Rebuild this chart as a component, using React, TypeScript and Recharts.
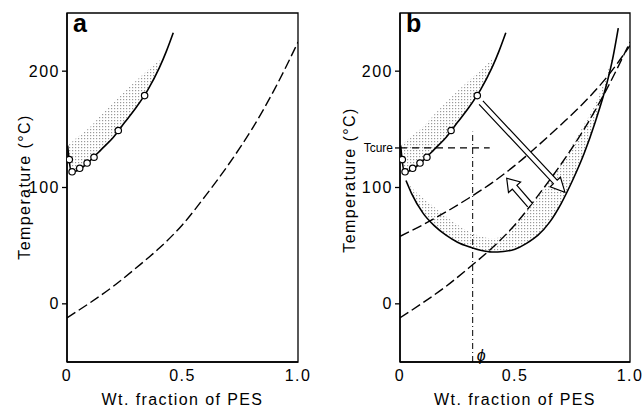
import React from "react";
import {
  ComposedChart,
  Line,
  Area,
  Scatter,
  XAxis,
  YAxis,
  ReferenceLine,
  ReferenceArea,
  ReferenceDot,
} from "recharts";

// axes
const fracTicks = [0, 0.5, 1];
const tempTicks = [0, 100, 200];
const tCure = 134;
const phi = 0.316;

// cloud-point curve (solid, upper left) and the measured points on it
const cloudX = [0.003, 0.009, 0.02, 0.05, 0.1, 0.15, 0.2, 0.25, 0.3, 0.35, 0.4, 0.43, 0.46];
const cloudT = [136, 124, 113, 115, 123, 133, 143, 156, 169, 184, 203, 217, 233];
// upper edge of the stippled band above it (same x, up to 0.4)
const cloudBandTop = [136, 137, 139, 144, 152, 163, 173, 183, 192, 201, 210];

const pointX = [0.01, 0.022, 0.055, 0.087, 0.117, 0.222, 0.336];
const pointT = [124, 113.5, 116.5, 121, 126, 149, 179];

// Tg curves (dashed)
const tgX = [0, 0.1, 0.2, 0.3, 0.4, 0.5, 0.6, 0.7, 0.8, 0.9, 1.0];
const tgLowT = [-12, 1, 15, 31, 48, 68, 93, 120, 150, 185, 225];
const tgHighT = [58, 68, 79, 91, 104, 119, 136, 154, 173, 195, 222];

// U-shaped curve in b and the stippled band on its inner side
const uX = [0.026, 0.05, 0.1, 0.15, 0.2, 0.25, 0.3, 0.35, 0.4, 0.45, 0.5, 0.55, 0.6, 0.65, 0.7, 0.75, 0.8, 0.85, 0.9, 0.925, 0.949];
const uT = [106, 95, 78, 67, 59, 53, 49, 46, 44.5, 45, 47, 52, 59, 70, 86, 106, 129, 157, 190, 211, 237];
const uBandTop = [106, 100, 91, 83, 75, 68, 62, 58, 56, 59, 68, 80, 93, 106, 120, 137, 154, 172, 198, 213];

// arrows in b: [tail, tip]
const bigArrow = [{ x: 0.352, y: 173 }, { x: 0.717, y: 96 }];
const smallArrow = [{ x: 0.565, y: 85 }, { x: 0.464, y: 108 }];

const cloud = cloudX.map((x, i) => ({ x, t: cloudT[i] }));
const cloudBand = cloudBandTop.map((top, i) => ({ x: cloudX[i], band: [cloudT[i], top] }));
const points = pointX.map((x, i) => ({ x, t: pointT[i] }));
const tgLow = tgX.map((x, i) => ({ x, t: tgLowT[i] }));
const tgHigh = tgX.map((x, i) => ({ x, t: tgHighT[i] }));
const uCurve = uX.map((x, i) => ({ x, t: uT[i] }));
const uBand = uBandTop.map((top, i) => ({ x: uX[i], band: [uT[i], top] }));

const FONT = "'Liberation Sans', Arial, sans-serif";
const DASH = "10 4";

const tickStyle = { fontSize: 16, fill: "#000", fontFamily: FONT, letterSpacing: 1.5 };

function HollowArrow(props: any) {
  const { x1, y1, x2, y2, w = 2.6, headLen = 14, headW = 7.5 } = props;
  const len = Math.hypot(x2 - x1, y2 - y1);
  const ux = (x2 - x1) / len;
  const uy = (y2 - y1) / len;
  const nx = -uy;
  const ny = ux;
  const neckX = x2 - ux * headLen;
  const neckY = y2 - uy * headLen;
  const p = (x: number, y: number) => `${x.toFixed(1)},${y.toFixed(1)}`;
  const d =
    `M${p(x1 + nx * w, y1 + ny * w)} L${p(neckX + nx * w, neckY + ny * w)} ` +
    `L${p(neckX + nx * headW, neckY + ny * headW)} L${p(x2, y2)} ` +
    `L${p(neckX - nx * headW, neckY - ny * headW)} L${p(neckX - nx * w, neckY - ny * w)} ` +
    `L${p(x1 - nx * w, y1 - ny * w)}`;
  return <path d={d} fill="#fff" stroke="#000" strokeWidth={1.2} />;
}

function YTick(props: any) {
  const { x, y, payload } = props;
  if (payload.value === tCure) {
    return (
      <text x={x} y={y} dy="0.35em" textAnchor="end" fontSize={12} fontFamily={FONT} fill="#000">
        Tcure
      </text>
    );
  }
  return (
    <text x={x} y={y} dy="0.35em" textAnchor="end" {...tickStyle}>
      {payload.value}
    </text>
  );
}

function Panel({ b }: { b: boolean }) {
  const width = b ? 323 : 320;
  const yw = b ? 80 : 67;
  const right = b ? 13 : 22;
  const plotL = yw;
  const plotR = width - right;
  const pid = b ? "stippleB" : "stippleA";
  return (
    <ComposedChart width={width} height={408} margin={{ top: 13, right, bottom: 0, left: 0 }}>
      <defs>
        <pattern id={pid} width={3} height={3} patternUnits="userSpaceOnUse">
          <rect x={0} y={0} width={1.2} height={1.2} fill="#555" />
        </pattern>
      </defs>
      <XAxis
        type="number"
        dataKey="x"
        domain={[0, 1]}
        ticks={fracTicks}
        tickFormatter={(v: number) => (v === 0 ? "0" : v.toFixed(1))}
        axisLine={{ stroke: "#000", strokeWidth: 1.5 }}
        tickLine={false}
        tickSize={6}
        tickMargin={2}
        tick={tickStyle}
        height={46}
        allowDataOverflow
      />
      <YAxis
        type="number"
        domain={[-50, 250]}
        ticks={b ? [0, 100, tCure, 200] : tempTicks}
        axisLine={{ stroke: "#000", strokeWidth: 1.5 }}
        tickLine={{ stroke: "#000", strokeWidth: 1.3 }}
        tickSize={5}
        tickMargin={2}
        tick={<YTick />}
        width={yw}
        allowDataOverflow
      />
      <ReferenceArea x1={0} x2={1} y1={-50} y2={250} fill="none" stroke="#000" strokeWidth={1.3} />

      <Area data={cloudBand} dataKey="band" type="monotone" stroke="none" fill={`url(#${pid})`} isAnimationActive={false} />
      {b && (
        <Area data={uBand} dataKey="band" type="monotone" stroke="none" fill={`url(#${pid})`} isAnimationActive={false} />
      )}

      <Line data={tgLow} dataKey="t" type="monotone" stroke="#000" strokeWidth={1.4} strokeDasharray={DASH} dot={false} isAnimationActive={false} />
      {b && (
        <Line data={tgHigh} dataKey="t" type="monotone" stroke="#000" strokeWidth={1.4} strokeDasharray={DASH} dot={false} isAnimationActive={false} />
      )}
      {b && (
        <Line data={uCurve} dataKey="t" type="monotone" stroke="#000" strokeWidth={1.6} dot={false} isAnimationActive={false} />
      )}
      <Line data={cloud} dataKey="t" type="monotone" stroke="#000" strokeWidth={1.6} dot={false} isAnimationActive={false} />

      {b && (
        <ReferenceLine segment={[{ x: 0, y: tCure }, { x: 0.39, y: tCure }]} stroke="#000" strokeWidth={1.2} strokeDasharray="7 5" />
      )}
      {b && (
        <ReferenceLine segment={[{ x: phi, y: -50 }, { x: phi, y: 148 }]} stroke="#000" strokeWidth={1} strokeDasharray="6 3 1 3" />
      )}
      {b && (
        <ReferenceDot
          x={phi}
          y={-44}
          r={0}
          shape={(p: any) => (
            <text x={p.cx + 4} y={p.cy + 6} fontSize={16} fontStyle="italic" fontFamily={FONT} fill="#000">
              ϕ
            </text>
          )}
        />
      )}

      <Scatter
        data={points}
        dataKey="t"
        isAnimationActive={false}
        shape={(p: any) => <circle cx={p.cx} cy={p.cy} r={3.2} fill="#fff" stroke="#000" strokeWidth={1.2} />}
      />

      {b && <ReferenceLine segment={bigArrow} shape={(p: any) => <HollowArrow {...p} w={2.6} headLen={14} headW={7} />} />}
      {b && <ReferenceLine segment={smallArrow} shape={(p: any) => <HollowArrow {...p} w={3} headLen={12} headW={8} />} />}

      <text x={plotL + 6} y={32} fontSize={25} fontWeight="bold" fontFamily={FONT} fill="#000">
        {b ? "b" : "a"}
      </text>
      <text
        transform={`translate(${b ? 29 : 24}, ${b ? 180 : 187}) rotate(-90)`}
        textAnchor="middle"
        dominantBaseline="central"
        fontSize={16}
        letterSpacing={1.4}
        fontFamily={FONT}
        fill="#000"
      >
        Temperature (°C)
      </text>
      <text
        x={(plotL + plotR) / 2}
        y={405}
        textAnchor="middle"
        fontSize={16}
        letterSpacing={1.4}
        fontFamily={FONT}
        fill="#000"
      >
        Wt. fraction of PES
      </text>
    </ComposedChart>
  );
}

export default function App() {
  return (
    <div style={{ position: "absolute", left: 0, top: 0, width: 643, height: 408, background: "#fff" }}>
      <div style={{ position: "absolute", left: 0, top: 0 }}>
        <Panel b={false} />
      </div>
      <div style={{ position: "absolute", left: 320, top: 0 }}>
        <Panel b={true} />
      </div>
    </div>
  );
}
